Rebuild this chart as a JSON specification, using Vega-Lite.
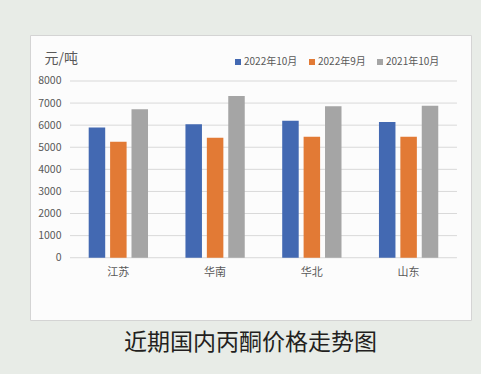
{
  "$schema": "https://vega.github.io/schema/vega-lite/v6.json",
  "width": 441,
  "height": 285,
  "autosize": {"type": "none"},
  "padding": {"left": 30, "top": 35, "right": 10, "bottom": 54},
  "background": "#E8ECE7",
  "title": {"text": "近期国内丙酮价格走势图", "orient": "bottom", "anchor": "middle", "offset": 12, "font": "Noto Sans CJK SC", "fontSize": 23, "fontWeight": "normal", "color": "#231F20"},
  "datasets": {
    "prices": [
      {"region": "江苏", "series": "2022年10月", "price": 5900},
      {"region": "江苏", "series": "2022年9月", "price": 5250},
      {"region": "江苏", "series": "2021年10月", "price": 6720},
      {"region": "华南", "series": "2022年10月", "price": 6040},
      {"region": "华南", "series": "2022年9月", "price": 5430},
      {"region": "华南", "series": "2021年10月", "price": 7320},
      {"region": "华北", "series": "2022年10月", "price": 6200},
      {"region": "华北", "series": "2022年9月", "price": 5480},
      {"region": "华北", "series": "2021年10月", "price": 6860},
      {"region": "山东", "series": "2022年10月", "price": 6140},
      {"region": "山东", "series": "2022年9月", "price": 5480},
      {"region": "山东", "series": "2021年10月", "price": 6880}
    ],
    "grid": [
      {"tick": 0, "from": "江苏", "to": "山东"},
      {"tick": 1000, "from": "江苏", "to": "山东"},
      {"tick": 2000, "from": "江苏", "to": "山东"},
      {"tick": 3000, "from": "江苏", "to": "山东"},
      {"tick": 4000, "from": "江苏", "to": "山东"},
      {"tick": 5000, "from": "江苏", "to": "山东"},
      {"tick": 6000, "from": "江苏", "to": "山东"},
      {"tick": 7000, "from": "江苏", "to": "山东"},
      {"tick": 8000, "from": "江苏", "to": "山东"}
    ]
  },
  "layer": [
    {
      "data": {"name": "grid"},
      "mark": {"type": "rule", "color": "#D9D9D9", "strokeWidth": 1},
      "encoding": {
        "x": {"field": "from", "type": "nominal", "bandPosition": -0.3155,
              "scale": {"domain": ["江苏", "华南", "华北", "山东"], "paddingInner": 0.387, "paddingOuter": 0.4725, "align": 0.642},
              "axis": {"title": null, "offset": -62, "domain": false, "ticks": false, "grid": false, "labelPadding": 8, "labelFontSize": 11, "labelColor": "#595959", "labelAngle": 0, "labelFont": "Noto Sans CJK SC"}},
        "x2": {"field": "to", "bandPosition": 1.3155},
        "y": {"field": "tick", "type": "quantitative",
              "scale": {"domain": [-2820, 10082], "nice": false, "zero": false},
              "axis": {"title": "元/吨", "format": "d", "values": [0, 1000, 2000, 3000, 4000, 5000, 6000, 7000, 8000], "offset": -34, "grid": false, "domain": false, "ticks": false, "labelPadding": 3, "labelFontSize": 10.5, "labelColor": "#595959", "labelFont": "Noto Sans CJK SC", "titleAngle": 0, "titleAlign": "left", "titleBaseline": "middle", "titleX": -20, "titleY": 23, "titleFontSize": 14, "titleFontWeight": "normal", "titleColor": "#595959", "titleFont": "Noto Sans CJK SC"}}
      }
    },
    {
      "data": {"name": "prices"},
      "mark": {"type": "bar"},
      "encoding": {
        "x": {"field": "region", "type": "nominal",
              "scale": {"domain": ["江苏", "华南", "华北", "山东"], "paddingInner": 0.387, "paddingOuter": 0.4725, "align": 0.642},
              "axis": {"title": null, "offset": -62, "domain": false, "ticks": false, "grid": false, "labelPadding": 8, "labelFontSize": 11, "labelColor": "#595959", "labelAngle": 0, "labelFont": "Noto Sans CJK SC"}},
        "xOffset": {"field": "series", "type": "nominal", "scale": {"domain": ["2022年10月", "2022年9月", "2021年10月"], "paddingInner": 0.229, "paddingOuter": 0}},
        "y": {"field": "price", "type": "quantitative", "stack": null,
              "scale": {"domain": [-2820, 10082], "nice": false, "zero": false},
              "axis": {"title": "元/吨", "format": "d", "values": [0, 1000, 2000, 3000, 4000, 5000, 6000, 7000, 8000], "offset": -34, "grid": false, "domain": false, "ticks": false, "labelPadding": 3, "labelFontSize": 10.5, "labelColor": "#595959", "labelFont": "Noto Sans CJK SC", "titleAngle": 0, "titleAlign": "left", "titleBaseline": "middle", "titleX": -20, "titleY": 23, "titleFontSize": 14, "titleFontWeight": "normal", "titleColor": "#595959", "titleFont": "Noto Sans CJK SC"}},
        "color": {"field": "series", "type": "nominal",
                  "scale": {"domain": ["2022年10月", "2022年9月", "2021年10月"], "range": ["#4369B2", "#E27A35", "#A5A5A5"]},
                  "legend": {"title": null, "orient": "none", "legendX": 203, "legendY": 22, "direction": "horizontal", "symbolType": "square", "symbolSize": 36, "symbolStrokeWidth": 0, "symbolOpacity": 1, "labelFontSize": 10, "labelColor": "#595959", "labelFont": "Noto Sans CJK SC", "labelOffset": 1, "columnPadding": 9, "padding": 0}}
      }
    }
  ],
  "config": {
    "view": {"fill": "#FCFCFC", "stroke": "#D4D4D4", "strokeWidth": 1},
    "font": "Noto Sans CJK SC"
  }
}
